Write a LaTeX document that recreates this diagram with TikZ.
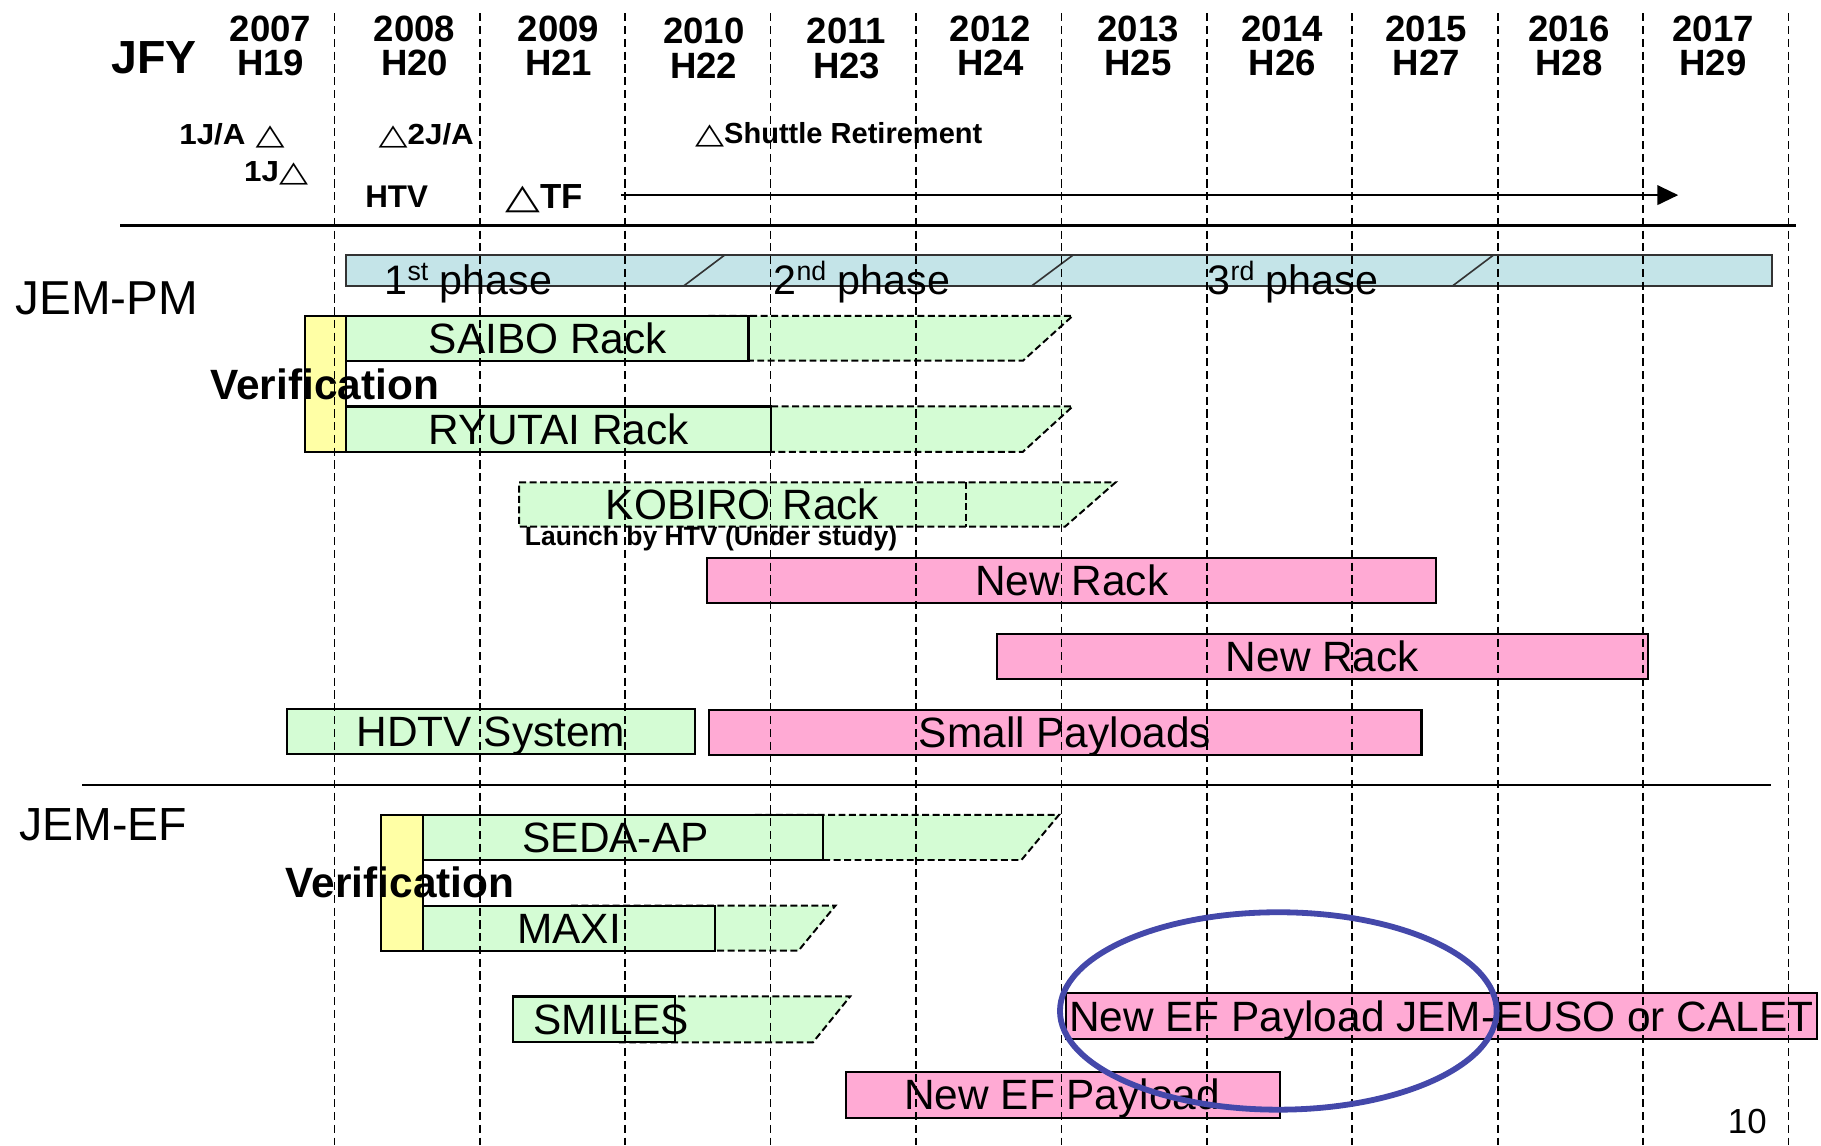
\documentclass[tikz,border=0pt]{standalone}
\usepackage{fontspec}
\usepackage{graphicx}
\setmainfont{Liberation Sans}
\newfontfamily\symfont{DejaVu Sans}
\newfontfamily\wideb[FakeStretch=1.08]{Liberation Sans}
\usetikzlibrary{arrows.meta}
\definecolor{boxgreen}{RGB}{212,252,212}
\definecolor{boxpink}{RGB}{255,170,212}
\definecolor{boxyellow}{RGB}{255,255,165}
\definecolor{phaseblue}{RGB}{196,228,232}
\definecolor{ringblue}{RGB}{68,72,170}
\newcommand\tri{{\symfont\bfseries\scalebox{1.3}[1]{△}}}
\newcommand\supx[1]{\raisebox{0.34em}{\fontsize{23}{23}\selectfont #1}}
\tikzset{
  gridline/.style={black, line width=1.4pt, dash pattern=on 7pt off 4pt},
  solidbox/.style={draw=black, line width=1.8pt},
  dashbox/.style={draw=black, line width=1.7pt, dash pattern=on 6pt off 3pt, fill=boxgreen},
  rule/.style={black, line width=2pt},
  lbl/.style={anchor=base, inner sep=0pt, font=\fontsize{36.5}{40}\selectfont},
  yr/.style={anchor=base, inner sep=0pt, font=\bfseries\fontsize{31.5}{34}\selectfont},
  ms/.style={anchor=base west, inner sep=0pt, font=\bfseries\fontsize{25}{27}\selectfont},
  big/.style={anchor=base west, inner sep=0pt, font=\fontsize{41}{44}\selectfont},
  verif/.style={anchor=base west, inner sep=0pt, font=\bfseries\fontsize{36.5}{40}\selectfont},
  phaselbl/.style={anchor=base west, inner sep=0pt, font=\fontsize{35.5}{40}\selectfont},
}
\begin{document}
\begin{tikzpicture}[x=1pt,y=-1pt]
\useasboundingbox (0,0) rectangle (1568,986);
\fill[white] (0,0) rectangle (1568,986);

% phase bar
\draw[fill=phaseblue, draw=black!80, line width=1.6pt] (297.8,219.6) rectangle (1526,246);
\draw[black!80, line width=1.4pt] (589,246) -- (624,219.6);
\draw[black!80, line width=1.4pt] (888.6,246) -- (924,219.6);
\draw[black!80, line width=1.4pt] (1251,246) -- (1286,219.6);

% JEM-PM bars
\draw[dashbox] (610,272) -- (923.6,272) -- (880.8,310.6) -- (610,310.6) -- cycle;
\draw[solidbox, fill=boxgreen] (297.8,272) rectangle (644.5,310.6);
\draw[dashbox] (610,350) -- (923.6,350) -- (880.8,389) -- (610,389) -- cycle;
\draw[solidbox, fill=boxgreen] (297.8,350) rectangle (664,389);
\draw[solidbox, fill=boxyellow] (262.7,272) rectangle (297.8,389);
\draw[dashbox] (447,415.3) -- (960.6,415.3) -- (917,453.5) -- (447,453.5) -- cycle;
\draw[dashbox] (831.8,415.3) -- (831.8,453.5);
\draw[solidbox, fill=boxpink] (608.5,480.7) rectangle (1236.6,519.5);
\draw[solidbox, fill=boxpink] (858.5,546.2) rectangle (1419,585);
\draw[solidbox, fill=boxgreen] (247,610.7) rectangle (598.6,649.5);
\draw[solidbox, fill=boxpink] (610.6,611.3) rectangle (1224,650);

% JEM-EF bars
\draw[dashbox] (650,701.7) -- (911.8,701.7) -- (879.5,740.5) -- (650,740.5) -- cycle;
\draw[solidbox, fill=boxgreen] (364,701.7) rectangle (708.4,740.5);
\draw[dashbox] (491.6,779.8) -- (719.4,779.8) -- (687.5,818.6) -- (491.6,818.6) -- cycle;
\draw[solidbox, fill=boxgreen] (364,779.8) rectangle (616,818.6);
\draw[solidbox, fill=boxyellow] (328.4,701.7) rectangle (364,818.6);
\draw[dashbox] (530,858) -- (732,858) -- (700,897.5) -- (530,897.5) -- cycle;
\draw[solidbox, fill=boxgreen] (442,858) rectangle (581,897.5);
\draw[solidbox, fill=boxpink] (917.5,854.7) rectangle (1564.6,894.9);
\draw[solidbox, fill=boxpink] (728.6,922.7) rectangle (1102,962.3);

% year grid
\foreach \k in {0,...,10}
  \draw[gridline] ({288+125.2*\k},11.5) -- ({288+125.2*\k},986);

% rules and arrow
\coordinate (r1a) at (103.6,194.2);
\coordinate (r1b) at (1546.2,194.2);
\coordinate (r2a) at (71,675.9);
\coordinate (r2b) at (1525,675.9);
\draw[rule] (r1a) -- (r1b);
\draw[rule] (r2a) -- (r2b);
\coordinate (arrS) at (534.6,168);
\coordinate (arrE) at (1445,168);
\draw[black, line width=1.5pt, -{Triangle[length=18pt,width=17pt]}] (arrS) -- (arrE);

% header
\node[anchor=base west, inner sep=0pt, font=\bfseries\fontsize{40}{44}\selectfont] (jfy) at (96,63) {JFY};
\node[yr] (y07) at (233,36) {2007};  \node[yr] (h19) at (233,64.6) {H19};
\node[yr] (y08) at (357,36) {2008};  \node[yr] (h20) at (357,64.6) {H20};
\node[yr] (y09) at (481,36) {2009};  \node[yr] (h21) at (481,64.6) {H21};
\node[yr] (y10) at (606,37.5) {2010};  \node[yr] (h22) at (606,68) {H22};
\node[yr] (y11) at (729,37.5) {2011};  \node[yr] (h23) at (729,68) {H23};
\node[yr] (y12) at (853,36) {2012};  \node[yr] (h24) at (853,64.6) {H24};
\node[yr] (y13) at (980,36) {2013};  \node[yr] (h25) at (980,64.6) {H25};
\node[yr] (y14) at (1104,36) {2014};  \node[yr] (h26) at (1104,64.6) {H26};
\node[yr] (y15) at (1228,36) {2015};  \node[yr] (h27) at (1228,64.6) {H27};
\node[yr] (y16) at (1351,36) {2016};  \node[yr] (h28) at (1351,64.6) {H28};
\node[yr] (y17) at (1475,36) {2017};  \node[yr] (h29) at (1475,64.6) {H29};

\node[ms, anchor=base east] (m1) at (245.4,124) {\wideb 1J/A\hspace{0.35em}\tri};
\node[ms] (m2) at (325.8,124) {\tri{\wideb 2J/A}};
\node[ms, anchor=base east] (m3) at (265.5,156) {\wideb 1J\tri};
\node[ms, font=\bfseries\fontsize{27}{29}\selectfont] (m4) at (314.3,178.5) {HTV};
\node[ms, font=\bfseries\fontsize{30}{32}\selectfont] (m5) at (434.8,179.4) {\tri TF};
\node[ms] (m6) at (598.4,123.4) {\tri Shuttle Retirement};

% phase labels
\node[phaselbl] (p1) at (331,254) {1\supx{st} phase};
\node[phaselbl] (p2) at (666,254) {2\supx{nd} phase};
\node[phaselbl] (p3) at (1039.7,254) {3\supx{rd} phase};

% section labels
\node[big] (pm) at (13.3,271) {JEM-PM};
\node[big, font=\fontsize{40}{44}\selectfont] (ef) at (16.5,724) {JEM-EF};
\node[verif] (v1) at (181,344) {Verification};
\node[verif] (v2) at (246,773) {Verification};

% bar labels
\node[lbl] (saibo) at (471.8,304.3) {SAIBO Rack};
\node[lbl] (ryutai) at (481.2,382.5) {RYUTAI Rack};
\node[lbl] (kobiro) at (639.4,447.4) {KOBIRO Rack};
\node[anchor=base west, inner sep=0pt, font=\bfseries\fontsize{22.8}{25}\selectfont] (launch) at (451.8,469.5) {Launch by HTV (Under study)};
\node[lbl] (nr1) at (922.8,513.1) {New Rack};
\node[lbl] (nr2) at (1138.7,578.6) {New Rack};
\node[lbl] (hdtv) at (422.8,643.1) {HDTV System};
\node[lbl] (small) at (917,643.6) {Small Payloads};
\node[lbl] (seda) at (530,734.1) {SEDA-AP};
\node[lbl] (maxi) at (490,812.2) {MAXI};
\node[lbl] (smiles) at (526.5,890.7) {SMILES};
\node[lbl] (euso) at (1241,887.8) {New EF Payload JEM-EUSO or CALET};
\node[lbl] (nef) at (914.5,955.5) {New EF Payload};
\node[anchor=base west, inner sep=0pt, font=\fontsize{30}{32}\selectfont] (pg) at (1487.6,975.6) {10};

% highlight ring
\draw[ringblue, line width=5pt] (1100.7,870.5) ellipse [x radius=188, y radius=85];
\end{tikzpicture}
\end{document}
